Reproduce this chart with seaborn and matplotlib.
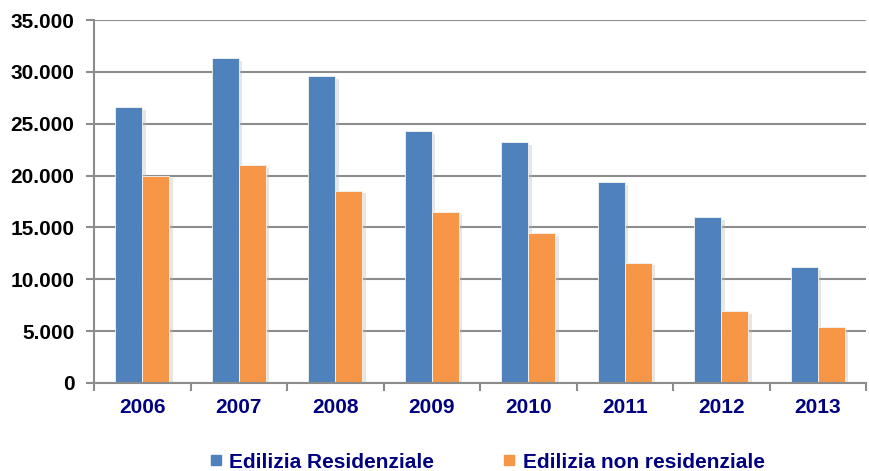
import matplotlib
matplotlib.use("Agg")
import matplotlib.pyplot as plt
import matplotlib.patheffects as pe
from matplotlib.ticker import FuncFormatter, FixedLocator
from matplotlib.lines import Line2D
import seaborn as sns
import pandas as pd

years = ["2006", "2007", "2008", "2009", "2010", "2011", "2012", "2013"]
residenziale = [26600, 31300, 29600, 24300, 23250, 19350, 16000, 11150]
non_residenziale = [20000, 21000, 18550, 16450, 14450, 11600, 6900, 5400]
series_names = ["Edilizia Residenziale", "Edilizia non residenziale"]
colors = ["#4F81BD", "#F79646"]

df = pd.DataFrame({
    "anno": years * 2,
    "valore": residenziale + non_residenziale,
    "serie": [series_names[0]] * len(years) + [series_names[1]] * len(years),
})

sns.set_theme(style="white")
plt.rcParams["font.family"] = ["Liberation Sans", "DejaVu Sans"]
plt.rcParams["font.weight"] = "bold"

fig = plt.figure(figsize=(8.69, 4.71), dpi=100)
ax = fig.add_axes([94 / 869, 1 - 383 / 471, (866 - 94) / 869, (383 - 20) / 471])

sns.barplot(data=df, x="anno", y="valore", hue="serie", palette=colors,
            width=0.56, gap=0, ax=ax, legend=False, saturation=1, errorbar=None)

for p in ax.patches:
    p.set_edgecolor("#f4f4f4")
    p.set_linewidth(0.6)
    p.set_path_effects([pe.SimplePatchShadow(offset=(2.5, -2), shadow_rgbFace="#b8b8b8", alpha=0.35),
                        pe.Normal()])

ax.set_ylim(0, 35000)
ax.set_xlim(-0.5, len(years) - 0.5)
ax.set_yticks(range(0, 35001, 5000))
ax.yaxis.set_major_formatter(FuncFormatter(lambda v, _: f"{int(v):,}".replace(",", ".")))
ax.grid(axis="y", color="#8c8c8c", linewidth=1.5)
ax.set_axisbelow(True)

for s in ["top", "right"]:
    ax.spines[s].set_visible(False)
for s in ["left", "bottom"]:
    ax.spines[s].set_color("#8c8c8c")
    ax.spines[s].set_linewidth(1.5)

ax.set_xlabel("")
ax.set_ylabel("")
ax.tick_params(axis="y", length=6, width=1.5, color="#8c8c8c", direction="out", left=True,
               labelsize=15, labelcolor="black", pad=8)
ax.tick_params(axis="x", which="major", length=0, labelsize=15, labelcolor="#000080", pad=11)
ax.xaxis.set_minor_locator(FixedLocator([i - 0.5 for i in range(len(years) + 1)]))
ax.tick_params(axis="x", which="minor", length=6, width=1.5, color="#8c8c8c", direction="out", bottom=True)
for lab in ax.get_xticklabels() + ax.get_yticklabels():
    lab.set_fontweight("bold")

handles = [Line2D([0], [0], marker="s", linestyle="none", markersize=6.5,
                  markerfacecolor=c, markeredgecolor=c) for c in colors]
leg = fig.legend(handles, series_names, loc="center", bbox_to_anchor=(485 / 869, 1 - 462 / 471),
                 ncol=2, frameon=False, columnspacing=3.1, handlelength=1.0, handletextpad=0.15,
                 borderpad=0, prop={"weight": "bold", "size": 15})
for t in leg.get_texts():
    t.set_color("#000080")

fig.savefig("out.png", dpi=100)
